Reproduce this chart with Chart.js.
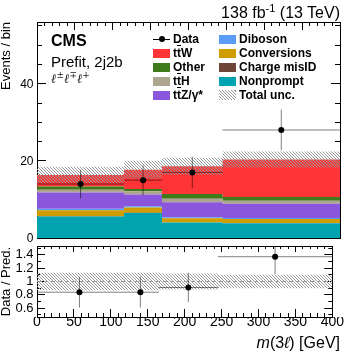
<!DOCTYPE html>
<html>
<head>
<meta charset="utf-8">
<script src="https://cdn.jsdelivr.net/npm/chart.js@4.4.1/dist/chart.umd.min.js"></script>
<style>
  body { margin: 0; background: #fff; }
  #wrap { position: relative; width: 349px; height: 352px; overflow: hidden; font-family: "Liberation Sans", Arial, sans-serif; color: #000; }
  #wrap canvas { position: absolute; left: 0; top: 0; }
  .txt { position: absolute; white-space: nowrap; line-height: 1; }
  .legend { position: absolute; top: 32px; font-size: 12px; font-weight: bold; line-height: 14px; }
  .legend div { position: relative; height: 14px; padding-left: 20px; white-space: nowrap; }
  .sw { position: absolute; left: 0; top: 2.5px; width: 17px; height: 9px; }
  .ov { text-decoration: overline; }
  .ylab { position: absolute; font-size: 12px; line-height: 1; text-align: right; width: 30px; z-index: 5; }
</style>
</head>
<body>
<div id="wrap">
  <canvas id="main" width="349" height="352"></canvas>
  <canvas id="ratio" width="349" height="352"></canvas>

  <div class="txt" style="right:9px; top:2.5px; font-size:16px;">138 fb<span style="font-size:11px; vertical-align:6px;">-1</span> (13 TeV)</div>
  <div class="txt" style="left:51px; top:33px; font-size:16px; font-weight:bold;">CMS</div>
  <div class="txt" style="left:51px; top:53.5px; font-size:15px;">Prefit, 2j2b</div>
  <div class="txt" style="left:51px; top:71px; font-size:13px; font-style:italic; font-family:'DejaVu Serif', serif; color:#222;">ℓ<span style="font-size:9px; vertical-align:5px;">±</span>ℓ<span style="font-size:9px; vertical-align:5px;">∓</span>ℓ<span style="font-size:9px; vertical-align:5px;">+</span></div>

  <div class="legend" style="left:153px;">
    <div><span class="sw" style="height:1px; top:6.5px; background:#000;"></span><span style="position:absolute; left:5.5px; top:4px; width:6px; height:6px; border-radius:50%; background:#000;"></span>Data</div>
    <div><span class="sw" style="background:#fe3436;"></span>t<span class="ov">t</span>W</div>
    <div><span class="sw" style="background:#3f7a1b;"></span>Other</div>
    <div><span class="sw" style="background:#aea590;"></span>t<span class="ov">t</span>H</div>
    <div><span class="sw" style="background:#8a57dc;"></span>t<span class="ov">t</span>Z/γ*</div>
  </div>
  <div class="legend" style="left:219px;">
    <div><span class="sw" style="background:#5a9cf7;"></span>Diboson</div>
    <div><span class="sw" style="background:#d09d00;"></span>Conversions</div>
    <div><span class="sw" style="background:#6e4637;"></span>Charge misID</div>
    <div><span class="sw" style="background:#00a3b0;"></span>Nonprompt</div>
    <div><span class="sw" style="background:repeating-linear-gradient(45deg, #999 0 0.8px, transparent 0.8px 2.2px); height:10px; top:2px;"></span>Total unc.</div>
  </div>

  <div class="txt" style="right:9px; top:334.5px; font-size:16px;"><i>m</i>(3<i>ℓ</i>) [GeV]</div>
</div>

<script>
// bins and tick labels
const binEdges = [0, 115, 165, 245, 400];
const xTickVals = [0, 50, 100, 150, 200, 250, 300, 350, 400];
const yMainTickVals = [0, 20, 40];
const yRatioTickVals = [0.6, 0.8, 1, 1.2, 1.4];

// predicted yields per bin (stack order, bottom to top)
const nonprompt   = [5.6, 6.5, 4.0, 3.8];
const chargeMisID = [0.05, 0.05, 0.05, 0.05];
const conversions = [1.55, 1.35, 1.05, 1.05];
const diboson     = [0.4, 0.3, 0.25, 0.3];
const ttZ         = [4.2, 3.1, 3.9, 3.7];
const ttH         = [0.7, 0.8, 0.95, 0.75];
const other       = [0.85, 0.6, 1.2, 1.0];
const ttW         = [3.0, 5.0, 7.2, 9.7];
const totalUnc    = [2.1, 2.3, 2.2, 2.1];

// observed data
const dataCounts = [14, 15, 17, 28];
const dataErr    = [3.7, 3.9, 4.1, 5.3];

// ratio panel
const ratioVals = [0.84, 0.84, 0.91, 1.37];
const ratioErr  = [0.23, 0.23, 0.22, 0.26];
const ratioUnc  = [0.13, 0.13, 0.12, 0.10];

const stackParts = [
    { label: 'Nonprompt',    vals: nonprompt,   color: '#00a3b0' },
    { label: 'Charge misID', vals: chargeMisID, color: '#6e4637' },
    { label: 'Conversions',  vals: conversions, color: '#d09d00' },
    { label: 'Diboson',      vals: diboson,     color: '#5a9cf7' },
    { label: 'ttZ',          vals: ttZ,         color: '#8a57dc' },
    { label: 'ttH',          vals: ttH,         color: '#aea590' },
    { label: 'Other',        vals: other,       color: '#3f7a1b' },
    { label: 'ttW',          vals: ttW,         color: '#fe3436' }
];

Chart.defaults.font.family = "'Liberation Sans', Arial, sans-serif";
Chart.defaults.color = '#000';

const errColor = 'rgba(0, 0, 0, 0.5)';
const binCenters = dataCounts.map((_, i) => (binEdges[i] + binEdges[i + 1]) / 2);
const totals = dataCounts.map((_, i) => stackParts.reduce((s, p) => s + p.vals[i], 0));

function hatchPattern(color) {
    const c = document.createElement('canvas');
    c.width = 3; c.height = 3;
    const g = c.getContext('2d');
    g.fillStyle = color;
    for (let i = 0; i < 3; i++) g.fillRect(i, i, 1, 1);
    return g.createPattern(c, 'repeat');
}

// step outline over the bin edges
function stepData(vals) {
    return binEdges.map((x, i) => ({ x: x, y: vals[Math.min(i, vals.length - 1)] }));
}

// horizontal bin-width bars, broken by null points
function hBars(vals) {
    const pts = [];
    vals.forEach((v, i) => {
        pts.push({ x: binEdges[i], y: v }, { x: binEdges[i + 1], y: v }, { x: binEdges[i + 1], y: null });
    });
    return pts;
}

function vBars(vals, errs) {
    const pts = [];
    vals.forEach((v, i) => {
        pts.push({ x: binCenters[i], y: v - errs[i] }, { x: binCenters[i], y: v + errs[i] }, { x: binCenters[i], y: null });
    });
    return pts;
}

function fmt(v) { return String(Math.round(v * 100) / 100); }

// one axis = one set of inward ticks on one frame side
function tickAxis(position, min, max, len, opts) {
    opts = opts || {};
    const axis = {
        type: 'linear',
        position: position,
        min: min,
        max: max,
        weight: opts.weight || 0,
        grid: { drawOnChartArea: false, drawTicks: true, tickLength: -len, tickColor: '#000', tickWidth: 1 },
        border: { display: true, color: '#000', width: 1 },
        ticks: Object.assign({ display: false, autoSkip: false, includeBounds: false, stepSize: opts.step, maxRotation: 0 }, opts.ticks || {}),
        title: opts.title || { display: false },
        afterFit: function (s) {
            if (s.isHorizontal()) s.height = opts.size || 0;
            else s.width = opts.size || 0;
        }
    };
    if (opts.values) {
        axis.afterBuildTicks = function (s) { s.ticks = opts.values.map(v => ({ value: v })); };
    }
    return axis;
}

const hatch = hatchPattern('#9a9a9a');

// Main panel
const mainDatasets = [
    { label: 'Data', data: dataCounts.map((v, i) => ({ x: binCenters[i], y: v })), stack: 'd0',
      showLine: false, pointRadius: 3, pointBackgroundColor: '#000', pointBorderColor: '#000', pointBorderWidth: 0 },
    { label: 'dataX', data: hBars(dataCounts), stack: 'd1', borderColor: errColor, borderWidth: 1, pointRadius: 0 },
    { label: 'dataY', data: vBars(dataCounts, dataErr), stack: 'd2', borderColor: errColor, borderWidth: 1, pointRadius: 0 },
    { label: 'uncLo', data: stepData(totals.map((t, i) => t - totalUnc[i])), stack: 'b0', stepped: true,
      borderColor: 'transparent', pointRadius: 0, fill: false },
    { label: 'Total unc.', data: stepData(totals.map((t, i) => t + totalUnc[i])), stack: 'b1', stepped: true,
      borderColor: 'transparent', pointRadius: 0, backgroundColor: hatch, fill: '-1' }
];
stackParts.forEach((p, k) => {
    mainDatasets.push({
        label: p.label, data: stepData(p.vals), stack: 'mc', stepped: true,
        borderColor: 'transparent', pointRadius: 0, backgroundColor: p.color,
        fill: k === 0 ? 'origin' : '-1'
    });
});

const mainChart = new Chart(document.getElementById('main'), {
    type: 'line',
    data: { datasets: mainDatasets },
    options: {
        responsive: false,
        animation: false,
        events: [],
        plugins: { legend: { display: false }, tooltip: { enabled: false } },
        layout: { padding: { left: 0, right: 9, top: 22, bottom: 114 } },
        scales: {
            x: tickAxis('bottom', 0, 400, 8, { values: xTickVals, weight: 1 }),
            xm: tickAxis('bottom', 0, 400, 4, { step: 10 }),
            xt: tickAxis('top', 0, 400, 8, { values: xTickVals, weight: 1 }),
            xtm: tickAxis('top', 0, 400, 4, { step: 10 }),
            y: Object.assign(tickAxis('left', 0, 56, 9, {
                values: yMainTickVals, weight: 1, size: 37,
                title: { display: true, text: 'Events / bin', align: 'end', font: { size: 13, lineHeight: 1 }, padding: { top: 0, bottom: 0 } }
            }), { stacked: true }),
            ym: tickAxis('left', 0, 56, 5, { step: 5 }),
            yr: tickAxis('right', 0, 56, 9, { values: yMainTickVals, weight: 1 }),
            yrm: tickAxis('right', 0, 56, 5, { step: 5 })
        }
    }
});

// main-panel y labels as text, placed at the scale's own tick pixels
(function () {
    const s = mainChart.scales.y;
    const wrap = document.getElementById('wrap');
    s.ticks.forEach(t => {
        const d = document.createElement('div');
        d.className = 'ylab';
        d.textContent = fmt(t.value);
        d.style.left = (s.right - 3.5 - 30) + 'px';
        d.style.top = (s.getPixelForValue(t.value) - 6) + 'px';
        wrap.appendChild(d);
    });
})();

// Ratio panel
const ratioDatasets = [
    { label: 'Data', data: ratioVals.map((v, i) => ({ x: binCenters[i], y: v })),
      showLine: false, pointRadius: 3, pointBackgroundColor: '#000', pointBorderColor: '#000', pointBorderWidth: 0 },
    { label: 'ratioX', data: hBars(ratioVals), borderColor: errColor, borderWidth: 1, pointRadius: 0 },
    { label: 'ratioY', data: vBars(ratioVals, ratioErr), borderColor: errColor, borderWidth: 1, pointRadius: 0 },
    { label: 'uncLo', data: stepData(ratioUnc.map(u => 1 - u)), stepped: true, borderColor: 'transparent', pointRadius: 0, fill: false },
    { label: 'uncHi', data: stepData(ratioUnc.map(u => 1 + u)), stepped: true, borderColor: 'transparent', pointRadius: 0,
      backgroundColor: hatch, fill: '-1' },
    { label: 'unity', data: [{ x: 0, y: 1 }, { x: 400, y: 1 }], borderColor: '#999', borderWidth: 1, borderDash: [4, 3], pointRadius: 0 }
];

const ratioChart = new Chart(document.getElementById('ratio'), {
    type: 'line',
    data: { datasets: ratioDatasets },
    options: {
        responsive: false,
        animation: false,
        events: [],
        plugins: { legend: { display: false }, tooltip: { enabled: false } },
        layout: { padding: { left: 0, right: 9, top: 246, bottom: 0 } },
        scales: {
            x: tickAxis('bottom', 0, 400, 8, {
                values: xTickVals, weight: 1, size: 35,
                ticks: { display: true, padding: 5, font: { size: 14 }, callback: fmt }
            }),
            xm: tickAxis('bottom', 0, 400, 4, { step: 10 }),
            xt: tickAxis('top', 0, 400, 6, { values: xTickVals, weight: 1 }),
            xtm: tickAxis('top', 0, 400, 3, { step: 10 }),
            y: tickAxis('left', 0.47, 1.53, 8, {
                values: yRatioTickVals, weight: 1, size: 37,
                ticks: { display: true, padding: 11.5, font: { size: 13 }, callback: fmt },
                title: { display: true, text: 'Data / Pred.', align: 'center', font: { size: 13, lineHeight: 1 }, padding: { top: 0, bottom: 0 } }
            }),
            ym: tickAxis('left', 0.47, 1.53, 4, { step: 0.1 }),
            yr: tickAxis('right', 0.47, 1.53, 8, { values: yRatioTickVals, weight: 1 }),
            yrm: tickAxis('right', 0.47, 1.53, 4, { step: 0.1 })
        }
    }
});
</script>
</body>
</html>
